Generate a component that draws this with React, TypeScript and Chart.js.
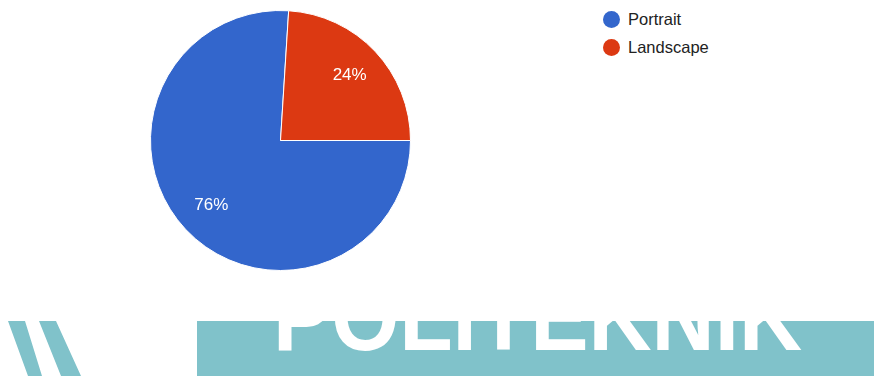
import React, { useEffect, useRef } from "react";
import { Chart, registerables } from "chart.js";

Chart.register(...registerables);

const labels = ["Portrait", "Landscape"];
const values = [76, 24];
const colors = ["#3366cc", "#dc3912"];

const pctLabelPlugin = {
  id: "pctLabels",
  afterDatasetsDraw(chart: any) {
    const ctx = chart.ctx;
    const meta = chart.getDatasetMeta(0);
    const data = chart.data.datasets[0].data as number[];
    const total = data.reduce((a, b) => a + b, 0);
    ctx.save();
    ctx.fillStyle = "#ffffff";
    ctx.font = "17px 'Liberation Sans', Arial, sans-serif";
    ctx.textAlign = "center";
    ctx.textBaseline = "middle";
    meta.data.forEach((arc: any, i: number) => {
      const p = arc.getProps(["x", "y", "startAngle", "endAngle", "outerRadius"], true);
      const mid = (p.startAngle + p.endAngle) / 2;
      const r = p.outerRadius * 0.73;
      const tx = p.x + Math.cos(mid) * r;
      const ty = p.y + Math.sin(mid) * r;
      ctx.fillText(Math.round((data[i] / total) * 100) + "%", tx, ty);
    });
    ctx.restore();
  },
};

export default function App() {
  const ref = useRef<HTMLCanvasElement>(null);
  useEffect(() => {
    if (!ref.current) return;
    const chart = new Chart(ref.current, {
      type: "pie",
      data: {
        labels,
        datasets: [
          {
            data: values,
            backgroundColor: colors,
            borderColor: "#ffffff",
            borderWidth: 1,
          },
        ],
      },
      options: {
        animation: false,
        responsive: false,
        rotation: 90,
        layout: { padding: 10 },
        plugins: {
          legend: { display: false },
          tooltip: { enabled: false },
        },
      },
      plugins: [pctLabelPlugin],
    });
    return () => chart.destroy();
  }, []);

  return (
    <div
      style={{
        position: "absolute",
        left: 0,
        top: 0,
        width: 874,
        height: 376,
        background: "#ffffff",
        overflow: "hidden",
        fontFamily: "'Liberation Sans', Arial, sans-serif",
      }}
    >
      <canvas
        ref={ref}
        width={561}
        height={281}
        style={{ position: "absolute", left: 0, top: 0, width: 561, height: 281 }}
      />
      {labels.map((l, i) => (
        <div
          key={l}
          style={{
            position: "absolute",
            left: 603,
            top: 10 + i * 28,
            height: 18,
            display: "flex",
            alignItems: "center",
            fontSize: 16.5,
            color: "#222222",
            whiteSpace: "nowrap",
          }}
        >
          <span
            style={{
              display: "inline-block",
              width: 17,
              height: 17,
              borderRadius: "50%",
              background: colors[i],
              marginRight: 8,
            }}
          />
          {l}
        </div>
      ))}
      {/* decorative banner below the chart */}
      <div
        style={{
          position: "absolute",
          left: 0,
          top: 321,
          width: 120,
          height: 55,
          background: "#80c2ca",
          clipPath:
            "polygon(8px 0, 25px 0, 42px 55px, 28px 55px, 8px 0, 39px 0, 56px 0, 81px 55px, 61px 55px, 39px 0)",
        }}
      />
      <div
        style={{
          position: "absolute",
          left: 197,
          top: 321,
          width: 677,
          height: 55,
          background: "#80c2ca",
          overflow: "hidden",
        }}
      >
        <div
          style={{
            position: "absolute",
            left: 76,
            top: -52,
            fontFamily: "'Liberation Sans', Arial, sans-serif",
            fontWeight: "bold",
            fontSize: 96,
            lineHeight: 1,
            color: "#ffffff",
            whiteSpace: "nowrap",
            transform: "scaleX(0.91)",
            transformOrigin: "0 0",
          }}
        >
          POLITEKNIK
        </div>
      </div>
    </div>
  );
}
